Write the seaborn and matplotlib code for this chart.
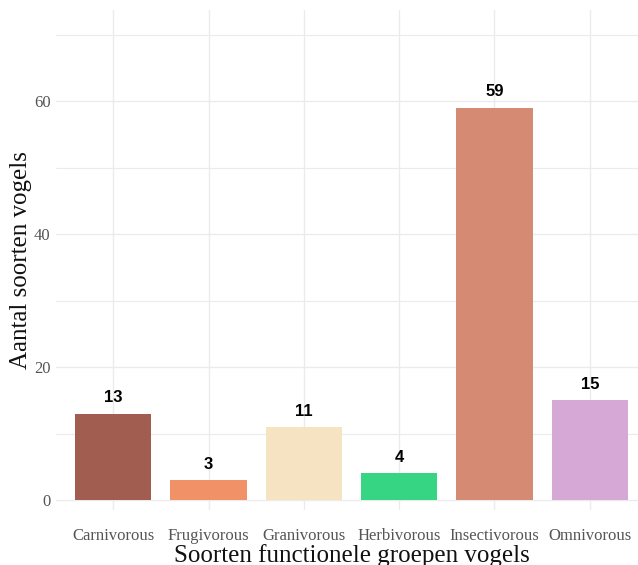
import matplotlib
matplotlib.use("Agg")
import matplotlib.pyplot as plt
import seaborn as sns
import pandas as pd

categories = ["Carnivorous", "Frugivorous", "Granivorous", "Herbivorous", "Insectivorous", "Omnivorous"]
counts = [13, 3, 11, 4, 59, 15]
colors = ["#A05D50", "#F09168", "#F5E3C1", "#35D583", "#D48A73", "#D6A8D6"]

df = pd.DataFrame({"groep": categories, "aantal": counts})

sns.set_theme(style="whitegrid")
plt.rcParams["font.family"] = ["Liberation Serif", "DejaVu Serif"]

fig = plt.figure(figsize=(6.38, 5.65), dpi=100)
W, H = 638, 565
ax = fig.add_axes([56 / W, 55 / H, (647 - 56) / W, 500 / H])

sns.barplot(data=df, x="groep", y="aantal", hue="groep", palette=colors,
            width=0.8, legend=False, ax=ax, saturation=1, linewidth=0)

for i, v in enumerate(counts):
    ax.annotate(str(v), (i, v), xytext=(0, 6), textcoords="offset points",
                ha="center", va="bottom", fontsize=12, fontweight="bold",
                family="Liberation Sans", color="black")

ax.set_xlim(-0.6, len(categories) - 1 + 0.6)
ax.set_ylim(-1.5, 73.7)
ax.set_yticks([0, 20, 40, 60])
ax.set_yticks([10, 30, 50, 70], minor=True)
ax.grid(True, which="major", color="#EBEBEB", linewidth=1.0)
ax.grid(True, which="minor", axis="y", color="#EBEBEB", linewidth=0.8)
ax.set_axisbelow(True)
for s in ax.spines.values():
    s.set_visible(False)
ax.tick_params(axis="both", which="both", length=0, labelsize=12, labelcolor="#555555")
ax.tick_params(axis="x", pad=13)
ax.tick_params(axis="y", pad=4)

ax.set_xlabel("Soorten functionele groepen vogels", fontsize=18, color="#111111", labelpad=0)
ax.set_ylabel("Aantal soorten vogels", fontsize=18, color="#111111", labelpad=1)

fig.savefig("out.png", dpi=100)
